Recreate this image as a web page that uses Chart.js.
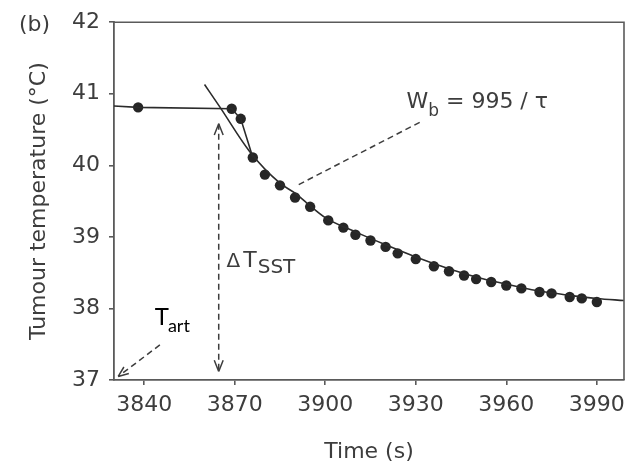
<!DOCTYPE html>
<html>
<head>
<meta charset="utf-8">
<script src="https://cdn.jsdelivr.net/npm/chart.js@4.4.1/dist/chart.umd.min.js"></script>
<style>
  html, body { margin: 0; padding: 0; background: #fff; }
  #wrap { width: 633px; height: 469px; }
</style>
</head>
<body>
<div id="wrap"><canvas id="chart" width="633" height="469"></canvas></div>
<script>
// tumour temperature readings after heating stops
const timeS = [3838, 3869, 3872, 3876, 3880, 3885, 3890, 3895, 3901, 3906, 3910, 3915, 3920, 3924,
  3930, 3936, 3941, 3946, 3950, 3955, 3960, 3965, 3971, 3975, 3981, 3985, 3990];
const tempC = [40.81, 40.79, 40.65, 40.11, 39.87, 39.72, 39.55, 39.42, 39.23, 39.13, 39.03, 38.95, 38.86, 38.77,
  38.69, 38.59, 38.52, 38.46, 38.41, 38.37, 38.32, 38.28, 38.23, 38.21, 38.16, 38.14, 38.09];

// steady level before cooling, starting at the axis
const leadTimeS = [3830];
const leadTempC = [40.83];

// fitted washout curve
const fitTimeS = [3860, 3865, 3875, 3885, 3890, 3894, 3900, 3910, 3920, 3930, 3940, 3950, 3960, 3970, 3980, 3990, 3999];
const fitTempC = [41.13, 40.82, 40.19, 39.75, 39.61, 39.47, 39.27, 39.07, 38.89, 38.72, 38.57, 38.44, 38.34, 38.25, 38.19, 38.14, 38.11];

const xTicks = [3840, 3870, 3900, 3930, 3960, 3990];
const yTicks = [37, 38, 39, 40, 41, 42];

// annotation anchors in axis units
const wbLabelAt = { x: 3926.9, y: 40.80 };
const wbPointer = [{ x: 3931.3, y: 40.60 }, { x: 3890.7, y: 39.72 }];
const deltaArrow = [{ x: 3864.7, y: 40.58 }, { x: 3864.7, y: 37.12 }];
const deltaLabelAt = { x: 3867.3, y: 38.58 };
const artLabelAt = { x: 3843.5, y: 37.77 };
const artArrow = [{ x: 3845.2, y: 37.49 }, { x: 3831.4, y: 37.05 }];

const INK = '#3d3d3d';
const AXIS = '#5a5a5a';
const LINE = '#2b2b2b';
const FONT = '"DejaVu Sans", sans-serif';

const pts = (xs, ys) => xs.map((x, i) => ({ x, y: ys[i] }));

function toPx(chart, p) {
  return { x: chart.scales.x.getPixelForValue(p.x), y: chart.scales.y.getPixelForValue(p.y) };
}

function dashLine(ctx, a, b) {
  ctx.setLineDash([6, 4]);
  ctx.beginPath();
  ctx.moveTo(a.x, a.y);
  ctx.lineTo(b.x, b.y);
  ctx.stroke();
}

function arrowHead(ctx, tip, from, size) {
  const ang = Math.atan2(tip.y - from.y, tip.x - from.x);
  ctx.setLineDash([]);
  ctx.beginPath();
  for (const s of [-1, 1]) {
    ctx.moveTo(tip.x, tip.y);
    ctx.lineTo(tip.x - size * Math.cos(ang + s * 0.38), tip.y - size * Math.sin(ang + s * 0.38));
  }
  ctx.stroke();
}

// box around the plot area
const frame = {
  id: 'frame',
  afterDraw(chart) {
    const { ctx, chartArea: a } = chart;
    ctx.save();
    ctx.strokeStyle = AXIS;
    ctx.lineWidth = 1.6;
    ctx.beginPath();
    ctx.moveTo(a.left, a.top);
    ctx.lineTo(a.right, a.top);
    ctx.lineTo(a.right, a.bottom);
    ctx.stroke();
    ctx.restore();
  }
};

// panel letter, labels and arrows
const notes = {
  id: 'notes',
  afterDraw(chart) {
    const ctx = chart.ctx;
    ctx.save();
    ctx.fillStyle = INK;
    ctx.textBaseline = 'alphabetic';
    ctx.textAlign = 'left';

    ctx.font = `22px ${FONT}`;
    ctx.fillText('(b)', 19, 31);

    // W_b label with its pointer
    let p = toPx(chart, wbLabelAt);
    ctx.font = `22px ${FONT}`;
    ctx.fillText('W', p.x, p.y);
    let w = ctx.measureText('W').width;
    ctx.font = `17px ${FONT}`;
    ctx.fillText('b', p.x + w, p.y + 8);
    w += ctx.measureText('b').width;
    ctx.font = `22px ${FONT}`;
    ctx.fillText(' = 995 / \u03c4', p.x + w, p.y);

    ctx.strokeStyle = INK;
    ctx.lineWidth = 1.5;
    dashLine(ctx, toPx(chart, wbPointer[0]), toPx(chart, wbPointer[1]));

    // delta T double arrow
    const d0 = toPx(chart, deltaArrow[0]);
    const d1 = toPx(chart, deltaArrow[1]);
    dashLine(ctx, d0, d1);
    arrowHead(ctx, d0, d1, 12);
    arrowHead(ctx, d1, d0, 12);

    p = toPx(chart, deltaLabelAt);
    ctx.font = `20px ${FONT}`;
    ctx.fillText('\u0394', p.x, p.y);
    w = ctx.measureText('\u0394').width + 3;
    ctx.font = `22px ${FONT}`;
    ctx.fillText('T', p.x + w, p.y);
    w += ctx.measureText('T').width + 1;
    ctx.font = `20px ${FONT}`;
    ctx.fillText('SST', p.x + w, p.y + 6);

    // arterial temperature pointer
    const a0 = toPx(chart, artArrow[0]);
    const a1 = toPx(chart, artArrow[1]);
    dashLine(ctx, a0, a1);
    arrowHead(ctx, a1, a0, 11);

    p = toPx(chart, artLabelAt);
    ctx.fillStyle = '#000';
    ctx.font = '24px Lato, sans-serif';
    ctx.fillText('T', p.x, p.y);
    w = ctx.measureText('T').width;
    ctx.font = '18px Lato, sans-serif';
    ctx.fillText('art', p.x + w - 1, p.y + 7);
    ctx.restore();
  }
};

const axisCommon = {
  type: 'linear',
  grid: { drawOnChartArea: false, drawTicks: true, tickLength: 5, color: AXIS, lineWidth: 1.6 },
  border: { display: true, color: AXIS, width: 1.8 },
};

new Chart(document.getElementById('chart'), {
  type: 'scatter',
  data: {
    datasets: [
      {
        label: 'fit',
        data: pts(fitTimeS, fitTempC),
        showLine: true,
        pointRadius: 0,
        borderColor: LINE,
        borderWidth: 1.6,
        cubicInterpolationMode: 'monotone',
      },
      {
        label: 'lead-in',
        data: pts(leadTimeS, leadTempC).concat(pts(timeS.slice(0, 4), tempC.slice(0, 4))),
        showLine: true,
        pointRadius: 0,
        borderColor: LINE,
        borderWidth: 1.6,
      },
      {
        label: 'readings',
        data: pts(timeS, tempC),
        pointRadius: 5.2,
        pointBackgroundColor: '#262626',
        pointBorderWidth: 0,
      },
    ],
  },
  options: {
    responsive: false,
    animation: false,
    devicePixelRatio: 1,
    layout: { padding: { top: 22, right: 9, left: 0, bottom: 0 } },
    plugins: { legend: { display: false }, tooltip: { enabled: false } },
    scales: {
      x: {
        ...axisCommon,
        min: 3830,
        max: 3999,
        afterBuildTicks: (s) => { s.ticks = xTicks.map((v) => ({ value: v })); },
        afterFit: (s) => { s.height = 89; },
        ticks: {
          color: INK, font: { family: FONT, size: 22 }, padding: 7, maxRotation: 0, autoSkip: false,
          callback: (v) => String(v),
        },
        title: { display: true, text: 'Time (s)', color: INK, font: { family: FONT, size: 22 }, padding: { top: 0, bottom: 4 } },
      },
      y: {
        ...axisCommon,
        min: 37,
        max: 42,
        afterBuildTicks: (s) => { s.ticks = yTicks.map((v) => ({ value: v })); },
        afterFit: (s) => { s.width = 114; },
        ticks: { color: INK, font: { family: FONT, size: 22 }, padding: 9, autoSkip: false, callback: (v) => String(v) },
        title: { display: true, text: 'Tumour temperature (\u00b0C)', color: INK, font: { family: FONT, size: 22 }, padding: { top: 26, bottom: 0 } },
      },
    },
  },
  plugins: [frame, notes],
});
</script>
</body>
</html>
